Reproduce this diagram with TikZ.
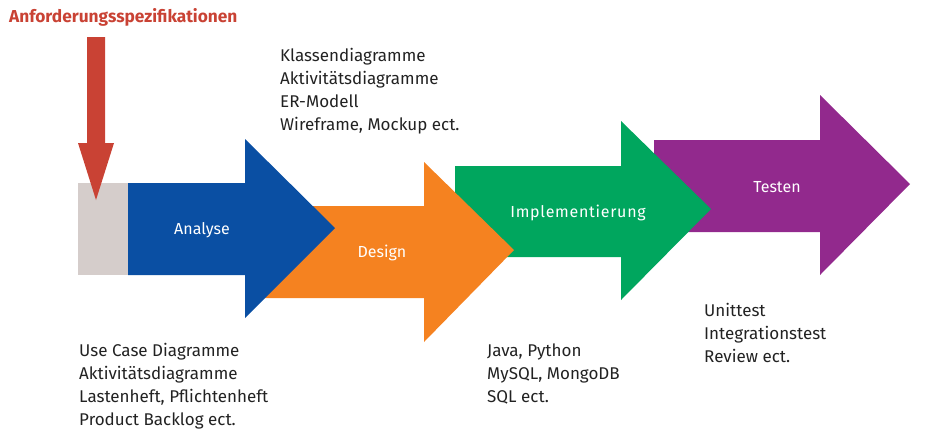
\documentclass[tikz,border=0pt]{standalone}
\usepackage{fontspec}
\setmainfont{Fira Sans}
\definecolor{cred}{HTML}{C94234}
\definecolor{cgray}{HTML}{D5CDCB}
\definecolor{cblue}{HTML}{0A4FA3}
\definecolor{corange}{HTML}{F58220}
\definecolor{cgreen}{HTML}{00A65E}
\definecolor{cpurple}{HTML}{92298D}
\definecolor{ctext}{HTML}{222222}
\tikzset{
  lbl/.style={text=white, font=\fontsize{16}{19}\selectfont, inner sep=0pt},
  note/.style={text=ctext, font=\fontsize{17}{22.7}\selectfont, align=left, anchor=base west, inner sep=0pt},
}
\begin{document}
\begin{tikzpicture}[x=1pt,y=-1pt]
\useasboundingbox (0,0) rectangle (927,432);
% purple
\fill[cpurple] (654,140) -- (820,140) -- (820,95) -- (910,184) -- (820,275) -- (820,232) -- (654,232) -- cycle;
% green
\fill[cgreen] (455,166) -- (621,166) -- (621,121) -- (711,209) -- (621,300) -- (621,257) -- (455,257) -- cycle;
% orange
\fill[corange] (255,206) -- (424,206) -- (424,162) -- (514,250) -- (424,342) -- (424,298) -- (255,298) -- cycle;
% blue
\fill[cblue] (128,183) -- (245,183) -- (245,139) -- (335,228) -- (245,318) -- (245,275) -- (128,275) -- cycle;
% gray
\fill[cgray] (78,183) rectangle (128,275);
% red arrow
\fill[cred] (87,37) -- (105,37) -- (105,143) -- (114,143) -- (96,200) -- (78,143) -- (87,143) -- cycle;

\node[lbl] (analyse) at (202,230) {Analyse};
\node[lbl] (design) at (382,253) {Design};
\node[lbl] (impl) at (578,213) {\addfontfeature{LetterSpace=4.5}Implementierung};
\node[lbl] (testen) at (777,187) {Testen};

\node[text=cred, font=\fontsize{17.3}{20}\selectfont\bfseries, anchor=base west, inner sep=0pt] (title) at (9,22) {Anforderungsspezifikationen};

\node[note] (design_notes) at (280,130) {Klassendiagramme\\Aktivitätsdiagramme\\ER-Modell\\Wireframe, Mockup ect.};
\node[note] (analyse_notes) at (79,425) {Use Case Diagramme\\Aktivitätsdiagramme\\Lastenheft, Pflichtenheft\\Product Backlog ect.};
\node[note] (impl_notes) at (487,402) {Java, Python\\MySQL, MongoDB\\SQL ect.};
\node[note] (test_notes) at (704,362) {Unittest\\Integrationstest\\Review ect.};
\end{tikzpicture}
\end{document}
